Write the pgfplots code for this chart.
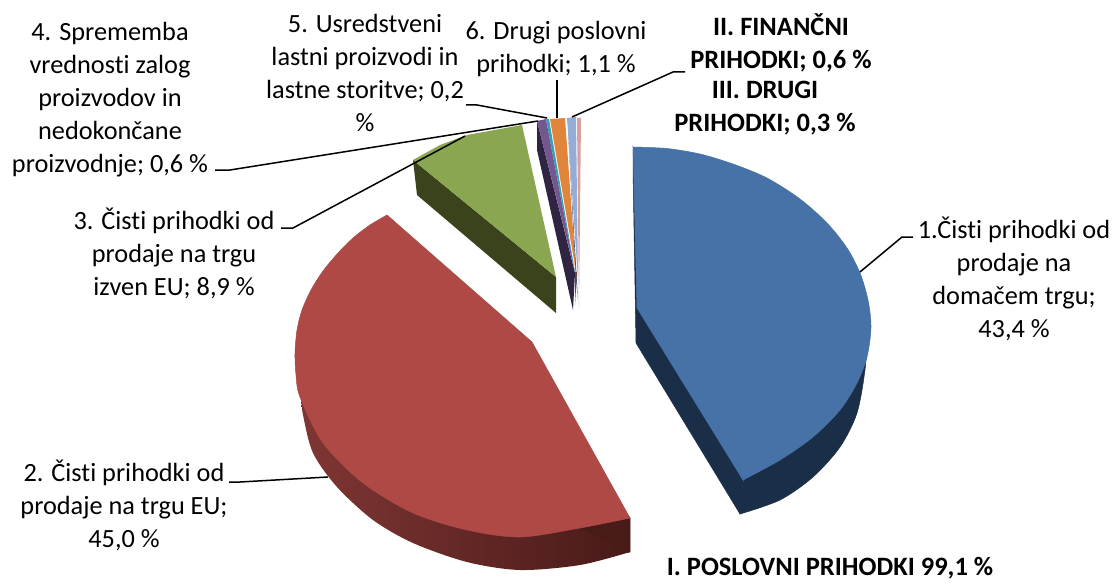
\documentclass[border=0pt]{standalone}
\usepackage{pgfplots}
\pgfplotsset{compat=1.18}
\usepackage{fontspec}
\setmainfont{Carlito}[Ligatures=NoCommon]
\definecolor{cblue}{HTML}{4672A8}
\definecolor{cbluedk}{HTML}{1B2E47}
\definecolor{cred}{HTML}{AE4946}
\definecolor{credlt}{HTML}{7F3634}
\definecolor{credmd}{HTML}{5A2422}
\definecolor{creddk}{HTML}{481A18}
\definecolor{cgreen}{HTML}{8BA650}
\definecolor{cgreendk}{HTML}{3A431C}
\definecolor{cpurple}{HTML}{75578F}
\definecolor{cpurpledk}{HTML}{2F2542}
\definecolor{cteal}{HTML}{35A0B8}
\definecolor{corange}{HTML}{E0853A}
\definecolor{corangedk}{HTML}{7A4318}
\definecolor{clblue}{HTML}{94ACD6}
\definecolor{clbluedk}{HTML}{3F5270}
\definecolor{cpink}{HTML}{D9A0A0}
\tikzset{
    lab/.style={align=center, font=\fontsize{26.3}{33}\selectfont, inner sep=0pt},
    labb/.style={align=center, font=\fontsize{26.5}{33}\selectfont\bfseries, inner sep=0pt},
}

\begin{document}
\begin{tikzpicture}
\begin{axis}[
    width=1115pt, height=583pt,
    scale only axis,
    xmin=0, xmax=1115,
    ymin=0, ymax=583,
    y dir=reverse,
    hide axis,
    clip=false,
    lead/.style={black, line width=1.5pt, no marks},
    slice/.style={no marks, line width=0.5pt},
    arc/.style={no marks, line width=0.5pt, smooth},
]
% page frame, keeps the picture at the axis size
\addplot[no marks, draw=none, fill=white] coordinates {(0,0)(1115,0)(1115,583)(0,583)} --cycle;

% blue slice
\addplot[arc, draw=cbluedk, fill=cbluedk] coordinates {(867,340)(865,370)(857,413)(840,447)(813,477)(780,500)(740,514)} --cycle;
\addplot[slice, draw=cbluedk, fill=cbluedk] coordinates {(633,150)(633,170)(636,343)(740,514)(867,340)(743,470)} --cycle;
\addplot[arc, draw=cblue, fill=cblue] coordinates {(633,147)(667,148.5)(700,154)(733,164)(767,178)(800,199)(827,223)(847,248)(860,273)(868,300)(871,327)(867,357)(857,383)(840,410)(813,437)(780,460)(743,480)} --cycle;
\addplot[slice, draw=cblue, fill=cblue] coordinates {(633,147)(743,480)(637,308)} --cycle;

% red slice
\addplot[slice, draw=creddk, fill=creddk] coordinates {(520,530)(630,518)(630,552)(520,565)} --cycle;
\addplot[arc, draw=none, left color=credlt, middle color=credmd, right color=creddk] coordinates {(301,397)(303,415)(313,453)(337,487)(373,520)(413,543)(467,562)(520,570)(580,565)(630,552)} --cycle;
\addplot[arc, draw=cred, fill=cred] coordinates {(387,215)(370,225)(353,238)(338,253)(323,271)(311,290)(302,310)(297,330)(295,353)(296,375)(300,397)(323,443)(363,483)(413,513)(467,530)(520,537)(580,528)(630,518)} --cycle;
\addplot[slice, draw=cred, fill=cred] coordinates {(387,215)(532,342)(630,518)} --cycle;

% green slice
\addplot[slice, draw=none, fill=cgreendk] coordinates {(413,160)(417,195)(556,313)(556,277)} --cycle;
\addplot[slice, draw=none, fill=cgreen] coordinates {(413,160)(440,145)(467,135)(522,125)(556,277)} --cycle;

% small slices
\addplot[slice, draw=none, fill=cpurpledk] coordinates {(537,121)(537,150)(573,310)(575,273)} --cycle;
\addplot[slice, draw=none, fill=cpurple] coordinates {(537,121)(546,119)(575,272)} --cycle;
\addplot[slice, draw=none, fill=cteal] coordinates {(546,119)(549,119)(575,272)} --cycle;
\addplot[slice, draw=none, fill=corangedk] coordinates {(575,272)(577,272)(575,305)} --cycle;
\addplot[slice, draw=none, fill=corange] coordinates {(550,119)(565,118)(576,272)} --cycle;
\addplot[slice, draw=none, fill=clbluedk] coordinates {(568,130)(576,280)(578,300)} --cycle;
\addplot[slice, draw=none, fill=clblue] coordinates {(567,118)(576,117)(578,280)} --cycle;
\addplot[slice, draw=none, fill=cpink] coordinates {(577,118)(581,118)(579,308)} --cycle;

% leader lines
\addplot[lead] coordinates {(860,272)(902,237)(913,237)};
\addplot[lead] coordinates {(229,482)(240,482)(328,477)};
\addplot[lead] coordinates {(281,228)(293,228)(465,136)};
\addplot[lead] coordinates {(215,170)(230,170)(538,121)};
\addplot[lead] coordinates {(466,105)(477,105)(547,118)};
\addplot[lead] coordinates {(557,80)(557,118)};
\addplot[lead] coordinates {(572,117)(673,72)(685,72)};

% labels
\node[lab] at (axis cs:110,100) {4. Sprememba\\vrednosti zalog\\proizvodov in\\nedokončane\\proizvodnje; 0,6 \%};
\node[lab] at (axis cs:365,73) {5. Usredstveni\\lastni proizvodi in\\lastne storitve; 0,2\\\%};
\node[lab] at (axis cs:556,49) {6. Drugi poslovni\\prihodki; 1,1 \%};
\node[labb] at (axis cs:781,43) {II. FINANČNI\\PRIHODKI; 0,6 \%};
\node[labb] at (axis cs:765,108) {III. DRUGI\\PRIHODKI; 0,3 \%};
\node[lab] at (axis cs:174,253) {3. Čisti prihodki od\\prodaje na trgu\\izven EU; 8,9 \%};
\node[lab] at (axis cs:1014,279) {1.Čisti prihodki od\\prodaje na\\domačem trgu;\\43,4 \%};
\node[lab] at (axis cs:124,505) {2. Čisti prihodki od\\prodaje na trgu EU;\\45,0 \%};
\node[labb] at (axis cs:830,568) {I. POSLOVNI PRIHODKI 99,1 \%};
\end{axis}
\end{tikzpicture}
\end{document}
